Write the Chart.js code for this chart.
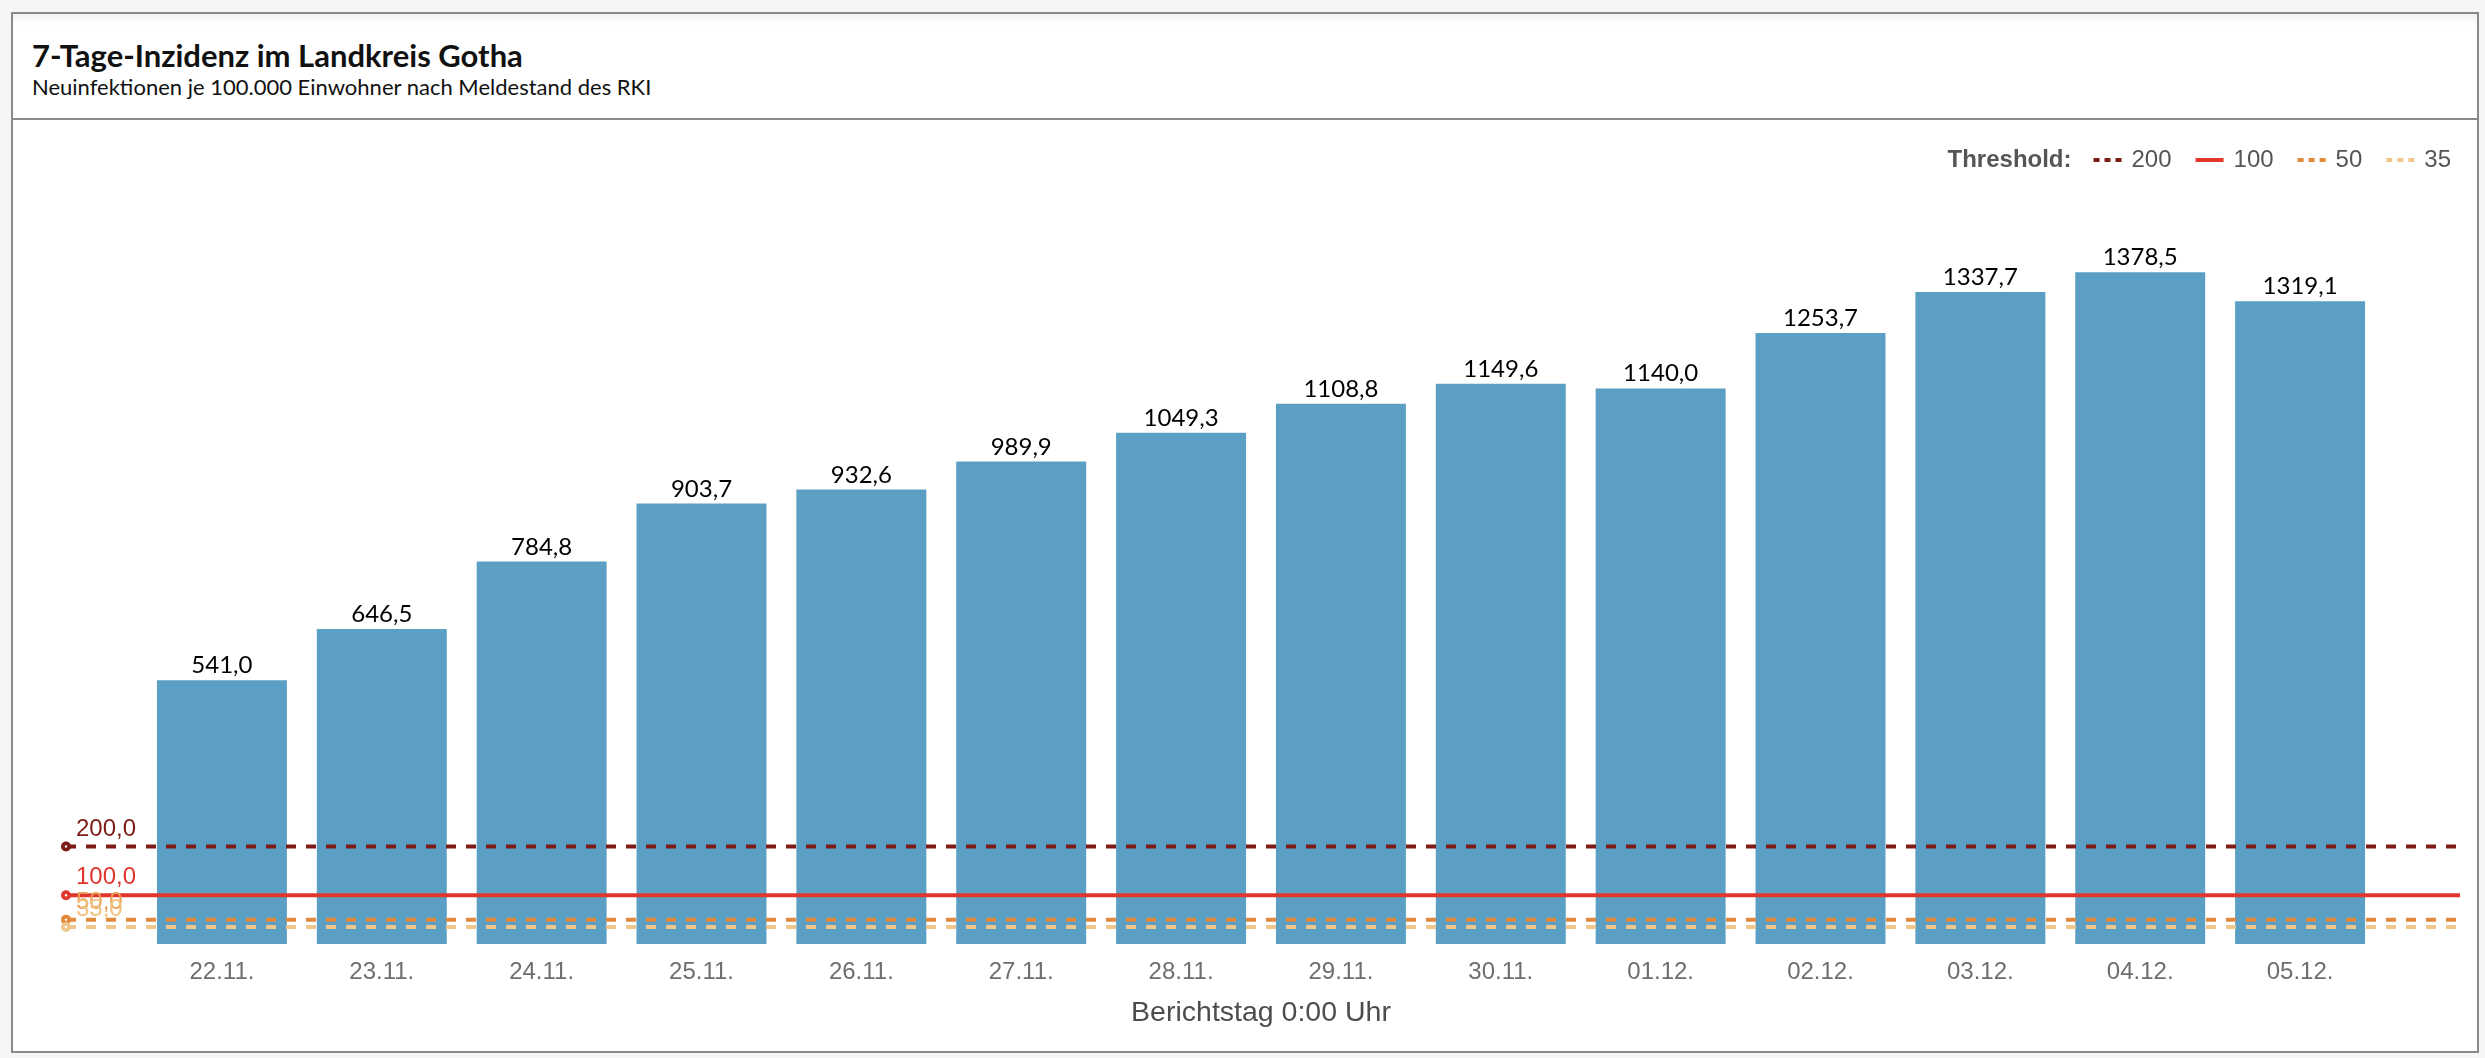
<!DOCTYPE html>
<html lang="de">
<head>
<meta charset="utf-8">
<title>7-Tage-Inzidenz im Landkreis Gotha</title>
<script src="https://cdn.jsdelivr.net/npm/chart.js@4.4.1/dist/chart.umd.min.js"></script>
<style>
  html, body { margin: 0; padding: 0; }
  body { width: 2485px; height: 1058px; background: #f6f6f6; position: relative; overflow: hidden; }
  .frame {
    position: absolute; left: 11px; top: 12px; width: 2468px; height: 1041px;
    box-sizing: border-box; border: 2px solid #8a8a8a; background: #fff;
  }
  .header {
    position: relative; height: 104px; border-bottom: 2px solid #8a8a8a;
    box-shadow: inset 0 12px 14px -12px rgba(0, 0, 0, 0.12);
  }
  .title { position: absolute; left: 19px; top: 22px; font: bold 31px Lato, sans-serif; color: #111; white-space: nowrap; }
  .subtitle { position: absolute; left: 19px; top: 59px; font: 22px Lato, sans-serif; color: #111; white-space: nowrap; }
  .chart-box { position: absolute; left: 0; top: 106px; width: 2464px; height: 931px; }
</style>
</head>
<body>
<div class="frame">
  <div class="header">
    <div class="title">7-Tage-Inzidenz im Landkreis Gotha</div>
    <div class="subtitle">Neuinfektionen je 100.000 Einwohner nach Meldestand des RKI</div>
  </div>
  <div class="chart-box">
    <canvas id="incidenceChart" width="2464" height="931"></canvas>
  </div>
</div>
<script>
const categories = ['22.11.', '23.11.', '24.11.', '25.11.', '26.11.', '27.11.', '28.11.',
  '29.11.', '30.11.', '01.12.', '02.12.', '03.12.', '04.12.', '05.12.'];
const incidence = [541.0, 646.5, 784.8, 903.7, 932.6, 989.9, 1049.3,
  1108.8, 1149.6, 1140.0, 1253.7, 1337.7, 1378.5, 1319.1];

const thresholdValues = [200, 100, 50, 35];
const thresholdNames = ['200', '100', '50', '35'];
const thresholdColors = ['#7d1c17', '#e0362c', '#e38a3a', '#f0c68c'];
const thresholdLabelColors = ['#7d1c17', '#e0362c', '#e9a256', '#efc27f'];
const thresholdDashed = [true, false, true, true];

const SANS = '"Liberation Sans", Arial, sans-serif';
const fmt = (v) => v.toFixed(1).replace('.', ',');

// horizontal threshold lines, wider than the plot area like in the original
const thresholdPlugin = {
  id: 'thresholds',
  afterDatasetsDraw(chart) {
    const { ctx, chartArea, scales: { y } } = chart;
    const x0 = chartArea.left - 76;
    const x1 = chartArea.right + 80;
    ctx.save();
    thresholdValues.forEach((value, i) => {
      const py = y.getPixelForValue(value);
      ctx.strokeStyle = thresholdColors[i];
      ctx.lineWidth = 4;
      ctx.setLineDash(thresholdDashed[i] ? [10, 10] : []);
      ctx.beginPath();
      ctx.moveTo(x0, py);
      ctx.lineTo(x1, py);
      ctx.stroke();

      ctx.setLineDash([]);
      ctx.fillStyle = thresholdColors[i];
      ctx.beginPath();
      ctx.arc(x0, py, 5, 0, Math.PI * 2);
      ctx.fill();
      ctx.fillStyle = '#fff';
      ctx.beginPath();
      ctx.arc(x0, py, 1.2, 0, Math.PI * 2);
      ctx.fill();
    });
    ctx.font = '24px ' + SANS;
    ctx.textAlign = 'left';
    ctx.textBaseline = 'alphabetic';
    thresholdValues.forEach((value, i) => {
      ctx.fillStyle = thresholdLabelColors[i];
      ctx.fillText(fmt(value), x0 + 10, y.getPixelForValue(value) - 11);
    });
    ctx.restore();
  }
};

// value labels on top of the bars
const valueLabelPlugin = {
  id: 'valueLabels',
  afterDatasetsDraw(chart) {
    const { ctx } = chart;
    const meta = chart.getDatasetMeta(0);
    ctx.save();
    ctx.font = '24px Lato, sans-serif';
    ctx.fillStyle = '#000';
    ctx.textAlign = 'center';
    ctx.textBaseline = 'alphabetic';
    meta.data.forEach((bar, i) => {
      ctx.fillText(fmt(incidence[i]), bar.x, bar.y - 7);
    });
    ctx.restore();
  }
};

// "Threshold:" legend in the top right corner
const legendPlugin = {
  id: 'thresholdLegend',
  afterDraw(chart) {
    const { ctx } = chart;
    const cy = 40;
    const sample = 28;
    ctx.save();
    ctx.textBaseline = 'middle';
    ctx.textAlign = 'left';
    ctx.font = 'bold 24px ' + SANS;
    const headWidth = ctx.measureText('Threshold:').width;
    ctx.font = '24px ' + SANS;
    const widths = thresholdNames.map((t) => ctx.measureText(t).width);
    const total = headWidth + 22 + widths.reduce((s, w) => s + sample + 10 + w, 0) + 24 * (widths.length - 1);
    let x = chart.width - 26 - total;

    ctx.fillStyle = '#555';
    ctx.font = 'bold 24px ' + SANS;
    ctx.fillText('Threshold:', x, cy);
    x += headWidth + 22;

    ctx.font = '24px ' + SANS;
    thresholdNames.forEach((name, i) => {
      ctx.strokeStyle = thresholdColors[i];
      ctx.lineWidth = 4;
      ctx.setLineDash(thresholdDashed[i] ? [6, 5] : []);
      ctx.beginPath();
      ctx.moveTo(x, cy);
      ctx.lineTo(x + sample, cy);
      ctx.stroke();
      x += sample + 10;
      ctx.fillStyle = '#555';
      ctx.fillText(name, x, cy);
      x += widths[i] + 24;
    });
    ctx.restore();
  }
};

function drawChart() {
  const ctx = document.getElementById('incidenceChart').getContext('2d');
  new Chart(ctx, {
    type: 'bar',
    data: {
      labels: categories,
      datasets: [{
        data: incidence,
        backgroundColor: '#5ba0c4',
        barPercentage: 0.813,
        categoryPercentage: 1.0,
      }],
    },
    options: {
      responsive: false,
      animation: false,
      layout: { padding: { left: 129, right: 97, top: 93, bottom: 17 } },
      plugins: {
        legend: { display: false },
        tooltip: { enabled: false },
      },
      scales: {
        x: {
          grid: { display: false, drawTicks: false },
          border: { display: false },
          ticks: { color: '#6e6e6e', font: { family: SANS, size: 24 }, padding: 14 },
          title: {
            display: true,
            text: 'Berichtstag 0:00 Uhr',
            color: '#4d4d4d',
            font: { family: SANS, size: 28.5 },
            padding: { top: -5, bottom: 4 },
          },
        },
        y: { display: false, min: 0, max: 1500 },
      },
    },
    plugins: [thresholdPlugin, valueLabelPlugin, legendPlugin],
  });
}

document.fonts.load('24px Lato').then(drawChart, drawChart);
</script>
</body>
</html>
